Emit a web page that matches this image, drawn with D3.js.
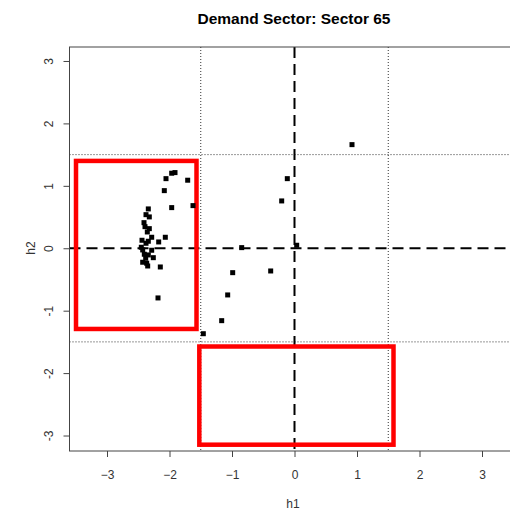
<!DOCTYPE html>
<html>
<head>
<meta charset="utf-8">
<script src="https://cdn.jsdelivr.net/npm/d3@7"></script>
<style>
  html, body { margin: 0; padding: 0; background: #ffffff; }
  svg { display: block; font-family: "Liberation Sans", Arial, sans-serif; }
</style>
</head>
<body>
<svg id="chart" width="510" height="510"></svg>
<script>
// Sector 65 scores on the two principal dimensions
const h1 = [-1.912, -1.965, -2.056, -1.709, -2.083, -1.965, -1.624, -2.339, -2.376, -2.323,
            -2.408, -2.392, -2.323, -2.355, -2.285, -2.067, -2.173, -2.440, -2.339, -2.376,
            -2.451, -2.285, -2.429, -2.403, -2.339, -2.259, -2.381, -2.429, -2.365, -2.349,
            -2.147, -2.184, -1.459, -0.989, -1.069, -1.165, 0.920, -0.115, -0.205, 0.035,
            -0.845, -0.381];
const h2 = [1.212, 1.202, 1.115, 1.090, 0.923, 0.651, 0.683, 0.630, 0.538, 0.502,
            0.410, 0.346, 0.314, 0.261, 0.176, 0.176, 0.101, 0.128, 0.112, 0.080,
            0.016, -0.032, -0.027, -0.096, -0.107, -0.151, -0.160, -0.224, -0.240, -0.284,
            -0.300, -0.796, -1.369, -0.391, -0.748, -1.160, 1.660, 1.115, 0.758, 0.048,
            0.010, -0.364];

const xTicks = [-3, -2, -1, 0, 1, 2, 3];
const yTicks = [-3, -2, -1, 0, 1, 2, 3];
const refLevels = [-1.5, 1.5];

// Highlighted regions: [x0, x1, y0, y1]
const regionX0 = [-3.496, -1.523];
const regionX1 = [-1.568, 1.584];
const regionY0 = [-1.293, -3.147];
const regionY1 = [1.399, -1.574];

const svg = d3.select("#chart");
const x = d3.scaleLinear().domain([-3.6, 3.6]).range([69.5, 519.5]);
const y = d3.scaleLinear().domain([-3.248, 3.224]).range([451, 47]);

const plot = svg.append("g");

// reference grid at ±1.5
refLevels.forEach(v => {
  plot.append("line")
    .attr("x1", x(v)).attr("x2", x(v)).attr("y1", y.range()[1]).attr("y2", y.range()[0])
    .attr("stroke", "#333").attr("stroke-width", 1).attr("stroke-dasharray", "1,2");
  plot.append("line")
    .attr("y1", y(v)).attr("y2", y(v)).attr("x1", x.range()[0]).attr("x2", x.range()[1])
    .attr("stroke", "#333").attr("stroke-width", 1).attr("stroke-dasharray", "1,2");
});

// dashed axes through the origin
plot.append("line")
  .attr("x1", x(0)).attr("x2", x(0)).attr("y1", y.range()[1]).attr("y2", y.range()[0])
  .attr("stroke", "#000").attr("stroke-width", 2).attr("stroke-dasharray", "11,6");
plot.append("line")
  .attr("y1", y(0)).attr("y2", y(0)).attr("x1", x.range()[0]).attr("x2", x.range()[1])
  .attr("stroke", "#000").attr("stroke-width", 2).attr("stroke-dasharray", "11,6");

// red regions
plot.selectAll("rect.region")
  .data(regionX0.map((d, i) => i))
  .join("rect")
  .attr("class", "region")
  .attr("x", i => x(regionX0[i]))
  .attr("y", i => y(regionY1[i]))
  .attr("width", i => x(regionX1[i]) - x(regionX0[i]))
  .attr("height", i => y(regionY0[i]) - y(regionY1[i]))
  .attr("fill", "none")
  .attr("stroke", "#ff0000")
  .attr("stroke-width", 4.5);

// points
const s = 5;
plot.selectAll("rect.pt")
  .data(h1.map((d, i) => [d, h2[i]]))
  .join("rect")
  .attr("class", "pt")
  .attr("x", d => x(d[0]) - s / 2)
  .attr("y", d => y(d[1]) - s / 2)
  .attr("width", s).attr("height", s)
  .attr("fill", "#000");

// frame
svg.append("rect")
  .attr("x", x.range()[0]).attr("y", y.range()[1])
  .attr("width", x.range()[1] - x.range()[0])
  .attr("height", y.range()[0] - y.range()[1])
  .attr("fill", "none").attr("stroke", "#444").attr("stroke-width", 1);

// axes
const xAxis = d3.axisBottom(x).tickValues(xTicks).tickSize(6).tickPadding(13).tickFormat(d3.format("d"));
const gx = svg.append("g").attr("transform", `translate(0,${y.range()[0]})`).call(xAxis);
gx.select(".domain").remove();
gx.selectAll("line").attr("stroke", "#444");
gx.selectAll("text").attr("font-size", 12).attr("fill", "#333")
  .attr("font-family", "Liberation Sans, Arial, sans-serif");

const yAxis = d3.axisLeft(y).tickValues(yTicks).tickSize(6).tickFormat(d3.format("d"));
const gy = svg.append("g").attr("transform", `translate(${x.range()[0]},0)`).call(yAxis);
gy.select(".domain").remove();
gy.selectAll("line").attr("stroke", "#444");
gy.selectAll("text").remove();
gy.selectAll(".tick").append("text")
  .attr("transform", "translate(-21,0) rotate(-90)")
  .attr("text-anchor", "middle")
  .attr("dy", "0.35em")
  .attr("font-size", 12).attr("fill", "#333")
  .text(d => d);

// labels
svg.append("text")
  .attr("x", 294).attr("y", 24)
  .attr("text-anchor", "middle")
  .attr("font-size", 15.5).attr("font-weight", "bold").attr("fill", "#000")
  .text("Demand Sector: Sector 65");
svg.append("text")
  .attr("x", 293).attr("y", 508)
  .attr("text-anchor", "middle")
  .attr("font-size", 12).attr("fill", "#333")
  .text("h1");
svg.append("text")
  .attr("transform", "translate(35,248) rotate(-90)")
  .attr("text-anchor", "middle")
  .attr("font-size", 12).attr("fill", "#333")
  .text("h2");
</script>
</body>
</html>
